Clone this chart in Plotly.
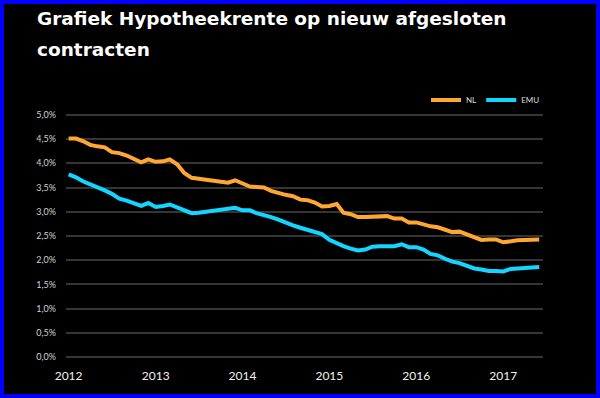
import plotly.graph_objects as go

# ---- data (monthly, Jan 2012 - Jun 2017) ----
months = [f"{2012 + i // 12}-{i % 12 + 1:02d}-01" for i in range(66)]

nl = [4.51, 4.51, 4.46, 4.38, 4.35, 4.33, 4.23, 4.21, 4.16, 4.08, 4.02, 4.08,
      4.03, 4.04, 4.08, 3.98, 3.80, 3.70, 3.68, 3.65, 3.63, 3.61, 3.60, 3.65,
      3.58, 3.52, 3.51, 3.50, 3.43, 3.38, 3.35, 3.32, 3.25, 3.24, 3.19, 3.11,
      3.12, 3.16, 2.98, 2.95, 2.89, 2.89, 2.89, 2.90, 2.91, 2.86, 2.86, 2.78,
      2.78, 2.74, 2.70, 2.68, 2.64, 2.58, 2.59, 2.53, 2.48, 2.42, 2.43, 2.43,
      2.37, 2.40, 2.41, 2.42, 2.42, 2.43]

emu = [3.77, 3.71, 3.63, 3.57, 3.50, 3.44, 3.37, 3.27, 3.23, 3.18, 3.12, 3.18,
       3.10, 3.12, 3.15, 3.09, 3.03, 2.97, 2.98, 3.00, 3.04, 3.05, 3.08, 3.08,
       3.03, 3.03, 2.97, 2.94, 2.89, 2.84, 2.77, 2.72, 2.67, 2.62, 2.57, 2.54,
       2.42, 2.35, 2.29, 2.24, 2.20, 2.22, 2.28, 2.29, 2.29, 2.29, 2.33, 2.27,
       2.27, 2.22, 2.13, 2.10, 2.03, 1.97, 1.94, 1.88, 1.83, 1.81, 1.78, 1.78,
       1.77, 1.82, 1.83, 1.85, 1.86, 1.86]

year_ticks = ["2012-01-01", "2013-01-01", "2014-01-01", "2015-01-01", "2016-01-01", "2017-01-01"]
year_labels = ["2012", "2013", "2014", "2015", "2016", "2017"]
y_ticks = [0, 0.5, 1.0, 1.5, 2.0, 2.5, 3.0, 3.5, 4.0, 4.5, 5.0]
y_labels = ["0,0%", "0,5%", "1,0%", "1,5%", "2,0%", "2,5%", "3,0%", "3,5%", "4,0%", "4,5%", "5,0%"]

title_line1 = "Grafiek Hypotheekrente op nieuw afgesloten"
title_line2 = "contracten"

# ---- layout geometry ----
W, H = 600, 398
L, R, T, B = 66, 57, 110, 36
pw, ph = W - L - R, H - T - B

def px_x(x):
    return (x - L) / pw

def px_y(y):
    return (H - B - y) / ph

fig = go.Figure()
fig.add_trace(go.Scatter(x=months, y=nl, name="NL", mode="lines",
                         line=dict(color="#FFA733", width=4)))
fig.add_trace(go.Scatter(x=months, y=emu, name="EMU", mode="lines",
                         line=dict(color="#12D6FF", width=4)))

fig.update_layout(
    width=W, height=H,
    margin=dict(l=L, r=R, t=T, b=B),
    paper_bgcolor="black", plot_bgcolor="black",
    showlegend=True,
    legend=dict(orientation="h", x=px_x(545), y=px_y(100), xanchor="right", yanchor="middle",
                font=dict(family="Lato", size=8, color="#dddddd"),
                bgcolor="rgba(0,0,0,0)", itemwidth=30, tracegroupgap=0),
    xaxis=dict(type="date", range=["2011-12-21", "2017-06-17"],
               tickvals=year_ticks, ticktext=year_labels,
               showgrid=False, zeroline=False, showline=False,
               ticks="", ticklabelstandoff=5,
               tickfont=dict(family="Lato", size=12, color="#f2f2f2")),
    yaxis=dict(range=[-0.1, 5.1], tickvals=y_ticks, ticktext=y_labels,
               showgrid=True, gridcolor="#353535", gridwidth=1.5,
               zeroline=False, showline=False, ticks="", ticklabelstandoff=9,
               tickfont=dict(family="Lato", size=9, color="#d0d0d0")),
    annotations=[
        dict(text=title_line1, xref="paper", yref="paper", x=px_x(35), y=px_y(19),
             xanchor="left", yanchor="middle", showarrow=False,
             font=dict(family="DejaVu Sans", size=18.5, color="white", weight="bold")),
        dict(text=title_line2, xref="paper", yref="paper", x=px_x(35), y=px_y(50),
             xanchor="left", yanchor="middle", showarrow=False,
             font=dict(family="DejaVu Sans", size=18.5, color="white", weight="bold")),
    ],
    shapes=[dict(type="rect", xref="paper", yref="paper",
                 x0=px_x(0), x1=px_x(W), y0=px_y(H), y1=px_y(0),
                 line=dict(color="#0000FF", width=8), fillcolor="rgba(0,0,0,0)",
                 layer="above")],
)

fig.write_html("out.html", config={"displayModeBar": False},
               post_script="document.body.style.margin='0';document.body.style.background='black';")
